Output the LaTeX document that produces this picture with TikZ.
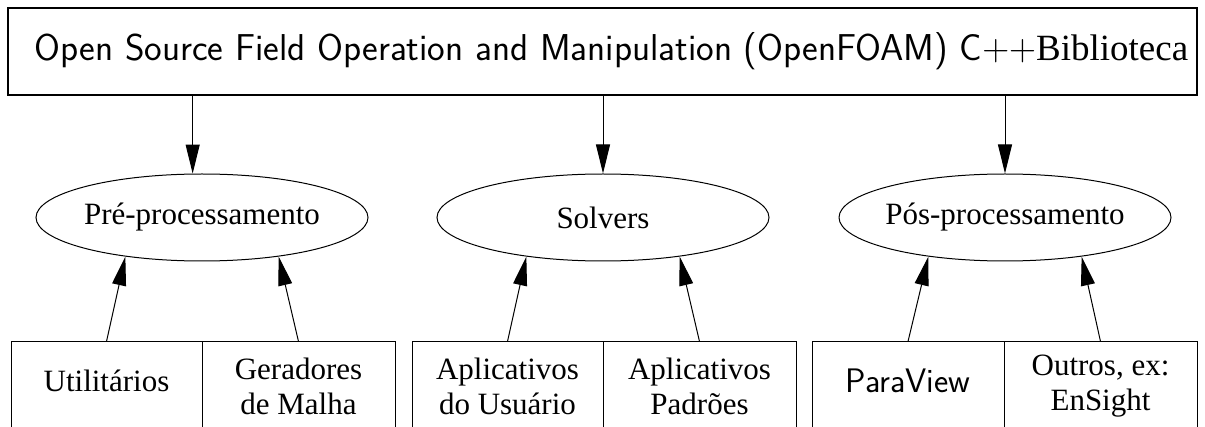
\documentclass[tikz,border=0pt]{standalone}
\usepackage{fix-cm}
\usepackage{fontspec}
\setmainfont{Liberation Serif}
\usetikzlibrary{arrows.meta,shapes.geometric}
\tikzset{
  lib/.style={draw,line width=1.2pt,minimum width=1189pt,minimum height=87pt,inner sep=0pt},
  stage/.style={draw,ellipse,line width=1pt,minimum width=332pt,minimum height=87pt,
    inner xsep=-20pt,inner ysep=0pt,font=\fontsize{31}{35}\selectfont},
  part/.style={draw,line width=1pt,minimum height=88pt,inner sep=0pt,align=center,
    font=\fontsize{31}{35}\selectfont},
  link/.style={-{Triangle[length=29pt,width=14pt]},line width=1pt},
}

\begin{document}
\begin{tikzpicture}[x=1pt,y=1pt]
\useasboundingbox (0,0) rectangle (1205,426);
\clip (0,0) rectangle (1205,426);
% library on top
\node[lib] (lib) at (602.5,374.5) {\hspace*{18pt}{\sffamily\fontsize{37.4}{42}\selectfont Open Source Field Operation and Manipulation (OpenFOAM) C$++$}{\fontsize{37}{42}\selectfont Biblioteca}};
% the three stages
\node[stage] (pre) at (202,208.5) {Pré-processamento};
\node[stage] (solv) at (603,208.5) {Solvers};
\node[stage] (pos) at (1005,208.5) {Pós-processamento};
% tools, cut off at the bottom
\node[part,minimum width=191pt,text depth=10pt] (util) at (106.5,40) {Utilitários};
\node[part,minimum width=193pt] (gera) at (298.5,40) {Geradores\\de Malha};
\node[part,minimum width=191pt] (usu) at (507.5,40) {Aplicativos\\do Usuário};
\node[part,minimum width=193pt] (pad) at (699.5,40) {Aplicativos\\Padrões};
\node[part,minimum width=192pt,text depth=10pt,font=\sffamily\fontsize{34}{40}\selectfont] (para) at (908,40) {ParaView};
\node[part,minimum width=193pt] (outros) at (1100.5,40) {Outros, ex:\\EnSight};
\draw[link] (lib.south -| pre.102) -- (pre.102);
\draw[link] (lib.south -| solv.north) -- (solv.north);
\draw[link] (lib.south -| pos.north) -- (pos.north);
\draw[link] (util.north) -- (pre.207);
\draw[link] (gera.north) -- (pre.333);
\draw[link] (usu.north) -- (solv.207);
\draw[link] (pad.north) -- (solv.333);
\draw[link] (para.north) -- (pos.207);
\draw[link] (outros.north) -- (pos.333);
\end{tikzpicture}
\end{document}
